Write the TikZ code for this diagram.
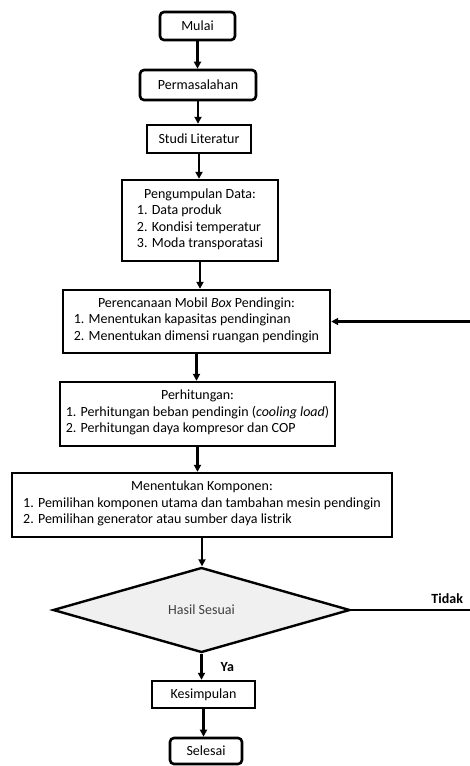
\documentclass[tikz,border=0pt]{standalone}
\usepackage{fontspec}
\setmainfont{Carlito}
\usetikzlibrary{positioning,arrows.meta,shapes.geometric,calc}

\newcommand{\daftar}[1]{\begin{tabular}[t]{@{}l@{}}#1\end{tabular}}

\begin{document}
\begin{tikzpicture}[
    x=1pt, y=-1pt,
    font=\fontsize{14}{16.5}\selectfont,
    box/.style={draw, line width=2.4pt, align=center, inner sep=3pt},
    terminal/.style={box, rounded corners=4pt, line width=2.6pt},
    process/.style={box},
    decision/.style={draw, diamond, line width=2.4pt, fill=black!6,
                     text=black!75, inner sep=0pt},
    arr/.style={-{Triangle[length=7pt,width=7pt]}, line width=2.4pt},
    tag/.style={font=\fontsize{14}{16}\selectfont\bfseries, inner sep=1pt}
  ]
  \useasboundingbox (0,0) rectangle (469,766);

  % ---- start and preparation ----
  \node[terminal, minimum width=75pt, minimum height=28pt] (mulai) at (197.5,26) {Mulai};
  \node[terminal, minimum width=116pt, minimum height=30pt] (masalah) at (198,85) {Permasalahan};
  \node[process, minimum width=104pt, minimum height=28pt] (studi) at (199,139) {Studi Literatur};
  \node[process, minimum width=156pt, minimum height=81pt] (data) at (200,220.5)
    {Pengumpulan Data:\\
     \daftar{1. Data produk\\ 2. Kondisi temperatur\\ 3. Moda transporatasi}};
  \draw[arr] (mulai.south) -- (mulai.south |- masalah.north);
  \draw[arr] (masalah.south) -- (masalah.south |- studi.north);
  \draw[arr] (studi.south) -- (studi.south |- data.north);

  % ---- design and calculation ----
  \node[process, minimum width=267pt, minimum height=63pt] (rencana) at (196.5,321.5)
    {Perencanaan Mobil \textit{Box} Pendingin:\\
     \daftar{1. Menentukan kapasitas pendinginan\\ 2. Menentukan dimensi ruangan pendingin}};
  \node[process, minimum width=275pt, minimum height=64pt] (hitung) at (197.5,414)
    {Perhitungan:\\
     \daftar{1. Perhitungan beban pendingin (\textit{cooling load})\\ 2. Perhitungan daya kompresor dan COP}};
  \node[process, minimum width=380pt, minimum height=64pt] (komponen) at (202,505)
    {Menentukan Komponen:\\
     \daftar{1. Pemilihan komponen utama dan tambahan mesin pendingin\\ 2. Pemilihan generator atau sumber daya listrik}};
  \draw[arr] (data.south) -- (data.south |- rencana.north);
  \draw[arr] (rencana.south) -- (rencana.south |- hitung.north);
  \draw[arr] (hitung.south) -- (hitung.south |- komponen.north);

  % ---- decision and loop back ----
  \node[decision, minimum width=297pt, minimum height=85pt] (hasil) at (201.5,610) {Hasil Sesuai};
  \draw[arr] (komponen.south) -- (komponen.south |- hasil.north);
  \coordinate (pojok) at ($(hasil.east)+(121,0)$);
  \draw[arr] (hasil.east) -- (pojok) |- (rencana.east);
  \node[tag, anchor=south east] (tidak) at ($(pojok)+(-8,-5)$) {Tidak};

  % ---- end ----
  \node[process, minimum width=103pt, minimum height=27pt] (simpulan) at (203.5,694.5) {Kesimpulan};
  \node[terminal, minimum width=72pt, minimum height=26pt] (selesai) at (206,751) {Selesai};
  \draw[arr] (hasil.south) -- (hasil.south |- simpulan.north);
  \draw[arr] (simpulan.south) -- (simpulan.south |- selesai.north);
  \node[tag, anchor=west] (ya) at ($(hasil.south)!.5!(simpulan.north)+(17,0)$) {Ya};

\end{tikzpicture}
\end{document}
